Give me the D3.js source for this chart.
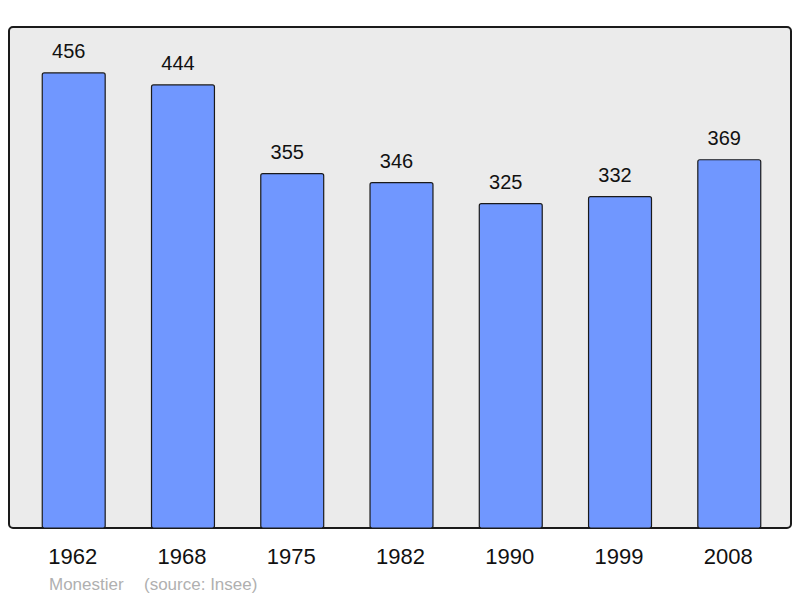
<!DOCTYPE html>
<html>
<head>
<meta charset="utf-8">
<script src="https://cdn.jsdelivr.net/npm/d3@7"></script>
<style>
  html, body { margin: 0; padding: 0; background: #ffffff; }
  svg { display: block; font-family: "Liberation Sans", Arial, sans-serif; }
</style>
</head>
<body>
<svg id="chart" width="800" height="598"></svg>
<script>
const years = ["1962", "1968", "1975", "1982", "1990", "1999", "2008"];
const population = [456, 444, 355, 346, 325, 332, 369];
const footerPlace = "Monestier";
const footerSource = "(source: Insee)";

const svg = d3.select("#chart");

const frame = { left: 9, top: 27, right: 791, bottom: 528 };

const x = d3.scaleBand()
  .domain(years)
  .range([11, 792])
  .paddingInner(0.424)
  .paddingOuter(0.286);

const y = d3.scaleLinear()
  .domain([0, 502])
  .range([frame.bottom, frame.top]);

// plot background frame
svg.append("rect")
  .attr("x", frame.left)
  .attr("y", frame.top)
  .attr("width", frame.right - frame.left)
  .attr("height", frame.bottom - frame.top)
  .attr("rx", 4)
  .attr("fill", "#ebebeb")
  .attr("stroke", "#1a1a1a")
  .attr("stroke-width", 2);

const data = years.map((yr, i) => ({ year: yr, value: population[i] }));

// bars
svg.append("g").selectAll("rect")
  .data(data)
  .join("rect")
  .attr("x", d => x(d.year))
  .attr("y", d => y(d.value))
  .attr("width", x.bandwidth())
  .attr("height", d => frame.bottom - y(d.value))
  .attr("rx", 2)
  .attr("fill", "#7097ff")
  .attr("stroke", "#1a1a1a")
  .attr("stroke-width", 1.2);

// value labels
svg.append("g").selectAll("text")
  .data(data)
  .join("text")
  .attr("x", d => x(d.year) + x.bandwidth() / 2 - 5)
  .attr("y", d => y(d.value) - 15)
  .attr("text-anchor", "middle")
  .attr("font-size", 20)
  .attr("fill", "#111")
  .text(d => d.value);

// x axis labels
const xAxis = d3.axisBottom(x).tickSize(0).tickPadding(0);
const axisG = svg.append("g")
  .attr("transform", `translate(-1, ${frame.bottom})`)
  .call(xAxis);
axisG.select(".domain").remove();
axisG.selectAll("text")
  .attr("y", 36)
  .attr("dy", null)
  .attr("font-size", 22)
  .attr("font-family", "Liberation Sans, Arial, sans-serif")
  .attr("fill", "#111");

// footer
svg.append("text")
  .attr("x", 49)
  .attr("y", 590)
  .attr("font-size", 17)
  .attr("fill", "#b0b0b0")
  .text(footerPlace);
svg.append("text")
  .attr("x", 144)
  .attr("y", 590)
  .attr("font-size", 17)
  .attr("fill", "#b0b0b0")
  .text(footerSource);
</script>
</body>
</html>
